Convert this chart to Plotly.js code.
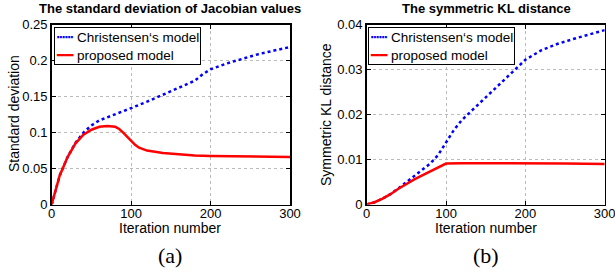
<!DOCTYPE html>
<html><head><meta charset="utf-8">
<script src="https://cdn.plot.ly/plotly-3.0.1.min.js"></script>
<style>body{margin:0;padding:0;background:#fff}#c{width:615px;height:275px}</style>
</head><body><div id="c"></div>
<script>
// Panel (a): standard deviation of Jacobian values
const aChrX = [0,5,10,20,30,40,50,60,70,80,90,100,120,140,160,180,190,200,220,240,260,280,300];
const aChrY = [0,0.022,0.04,0.066,0.086,0.1,0.11,0.117,0.121,0.125,0.129,0.134,0.143,0.153,0.162,0.172,0.181,0.188,0.196,0.203,0.209,0.214,0.219];
const aPropX = [0,5,10,20,30,40,50,60,70,80,85,90,95,100,105,110,120,140,160,180,200,250,300];
const aPropY = [0,0.022,0.04,0.066,0.085,0.097,0.104,0.108,0.109,0.108,0.105,0.1,0.094,0.088,0.083,0.079,0.075,0.0715,0.0695,0.068,0.0675,0.067,0.066];
// Panel (b): symmetric KL distance
const bChrX = [0,10,20,30,40,50,60,70,80,90,100,110,120,140,160,180,200,220,240,260,280,300];
const bChrY = [0,0.0005,0.0013,0.0023,0.0036,0.005,0.0063,0.0076,0.0091,0.011,0.0138,0.0166,0.0188,0.0222,0.0254,0.0288,0.0322,0.0343,0.0357,0.0368,0.0378,0.0388];
const bPropX = [0,10,20,30,40,50,60,70,80,90,100,120,150,200,250,300];
const bPropY = [0,0.0005,0.0013,0.0023,0.0035,0.0046,0.0056,0.0065,0.0074,0.0083,0.0091,0.0092,0.0092,0.0092,0.0091,0.0090];
const names = ["Christensen\u2018s model", "proposed model"];
const titles = ["The standard deviation of Jacobian values", "The symmetric KL distance"];
const yTitles = ["Standard deviation", "Symmetric KL distance"];
const xTitle = "Iteration number";
const panelLabels = ["(a)", "(b)"];
const xTicks = [0,100,200,300];
const aYTicks = [0,0.05,0.1,0.15,0.2,0.25];
const aYText = ["0","0.05","0.1","0.15","0.2","0.25"];
const bYTicks = [0,0.01,0.02,0.03,0.04];
const bYText = ["0","0.01","0.02","0.03","0.04"];

const F = "Liberation Sans, Arial, sans-serif";
const BLUE = "#0000ff", RED = "#ff0000";
const blue = {color:BLUE, width:2.5, dash:"dot"};
const red = {color:RED, width:2.5};
const traces = [
  {x:aChrX, y:aChrY, name:names[0], mode:"lines", line:blue, xaxis:"x", yaxis:"y", showlegend:false},
  {x:aPropX, y:aPropY, name:names[1], mode:"lines", line:red, xaxis:"x", yaxis:"y", showlegend:false},
  {x:bChrX, y:bChrY, name:names[0], mode:"lines", line:blue, xaxis:"x2", yaxis:"y2", showlegend:false},
  {x:bPropX, y:bPropY, name:names[1], mode:"lines", line:red, xaxis:"x2", yaxis:"y2", showlegend:false}
];
const W=615,H=275;
const yd=[1-204.5/H, 1-24.7/H];
const ax = (dom, tv, tt, rng, extra) => Object.assign({
  domain: dom, range: rng, tickvals: tv, ticktext: tt, showline:true, mirror:"ticks",
  linecolor:"#000", linewidth:1.5, ticks:"inside", ticklen:4, tickcolor:"#000",
  showgrid:true, gridcolor:"#bbbbbb", griddash:"dot", gridwidth:1, zeroline:false,
  ticklabeloverflow:"allow",
  tickfont:{family:F, size:13, color:"#000"}, fixedrange:true
}, extra||{});
const A = (text, x, y, size, extra) => Object.assign({text:text, x:x/W, y:1-y/H, xref:"paper", yref:"paper",
  xanchor:"center", yanchor:"middle", showarrow:false, font:{family:F,size:size,color:"#000"}}, extra||{});
const serif = {family:"Liberation Serif, Times New Roman, serif", size:22, color:"#000"};
const sym = (c, g) => '<span style="color:'+c+';font-family:DejaVu Sans">'+g+'</span>';
const legendText = sym(BLUE,"\u2505\u2505")+" "+names[0]+"<br>"+sym(RED,"\u2501\u2501")+" "+names[1];
const legBox = (x) => A(legendText, x, 27, 13.5, {xanchor:"left", yanchor:"top", align:"left",
  bgcolor:"#fff", bordercolor:"#000", borderwidth:1, borderpad:1});
const layout = {
  width:W, height:H, margin:{l:0,r:0,t:0,b:0}, paper_bgcolor:"#fff", plot_bgcolor:"#fff",
  showlegend:false,
  xaxis: ax([51.7/W, 290/W], xTicks, xTicks.map(String), [0,300], {ticklabelstandoff:-4}),
  yaxis: ax(yd, aYTicks, aYText, [0,0.25], {anchor:"x"}),
  xaxis2: ax([366.7/W, 604.7/W], xTicks, xTicks.map(String), [0,300], {anchor:"y2", ticklabelstandoff:-4}),
  yaxis2: ax(yd, bYTicks, bYText, [0,0.04], {anchor:"x2"}),
  annotations: [
    A("<b>"+titles[0]+"</b>", 170, 8.5, 13),
    A("<b>"+titles[1]+"</b>", 486, 8.5, 13),
    A(xTitle, 170, 228, 14),
    A(xTitle, 486, 228, 14),
    A(yTitles[0], 14, 114, 14, {textangle:-90}),
    A(yTitles[1], 326, 114, 14, {textangle:-90}),
    A(panelLabels[0], 170, 255, 22, {font:serif}),
    A(panelLabels[1], 486, 255, 22, {font:serif}),
    legBox(54),
    legBox(368)
  ]
};
Plotly.newPlot("c", traces, layout, {displayModeBar:false, staticPlot:true});
</script></body></html>
